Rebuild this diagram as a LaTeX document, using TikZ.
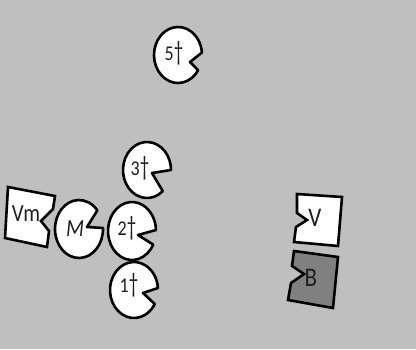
\documentclass[tikz,border=0pt]{standalone}
\usepackage{fontspec}
\setmainfont{Carlito}
\usepackage{graphicx}
\definecolor{bg}{RGB}{191,191,191}
\definecolor{bdark}{RGB}{128,128,128}
\definecolor{txt}{RGB}{30,30,30}
\tikzset{
  pac/.style={draw=black, fill=white, line width=2.6pt, line join=round},
  blk/.style={draw=black, line width=2.6pt, line join=miter},
  dig/.style={inner sep=0pt, text=txt, font=\fontsize{18}{18}\selectfont},
  lab/.style={inner sep=0pt, text=txt, font=\fontsize{23}{23}\selectfont}
}
\newcommand\vs[1]{\scalebox{1}[1.17]{#1}}
\newcommand\dg{\scalebox{1.05}[1.3]{†}}
\begin{document}
\begin{tikzpicture}[x=1pt,y=-1pt]
\useasboundingbox (0,0) rectangle (416,349);
\fill[bg] (0,0) rectangle (416,349);
% pacmen
\draw[pac] (178,55) ++(33:24 and 28) arc[start angle=33, end angle=355, x radius=24, y radius=28] -- (190,62) -- cycle;
\draw[pac] (147,170) ++(49:24 and 28) arc[start angle=49, end angle=360, x radius=24, y radius=28] -- (152,173) -- cycle;
\draw[pac] (132,231) ++(28:24 and 29) arc[start angle=28, end angle=358, x radius=24, y radius=29] -- (138,235) -- cycle;
\draw[pac] (134,290) ++(30:24 and 28) arc[start angle=30, end angle=356, x radius=24, y radius=28] -- (143,293) -- cycle;
\draw[pac] (79,229) ++(-2:24 and 29) arc[start angle=-2, end angle=320, x radius=24, y radius=29] -- (87,227) -- cycle;
% boxes
\draw[blk, fill=white] (8,187) -- (55,196) -- (53,209) -- (41,221) -- (49,231) -- (47,247) -- (5,238) -- cycle;
\draw[blk, fill=white] (297,194) -- (342,197) -- (338,246) -- (294,242) -- (296,227) -- (307,220) -- (297,213) -- cycle;
\draw[blk, fill=bdark] (294,251) -- (338,257) -- (333,308) -- (288,300) -- (291,283) -- (304,274) -- (292,266) -- cycle;
% labels
\node[dig] (t5) at (174,53) {\vs{5\dg}};
\node[dig] (t3) at (140,168) {\vs{3\dg}};
\node[dig] (t2) at (127,228) {\vs{2\dg}};
\node[dig] (t1) at (129,285) {\vs{1\dg}};
\node[lab, font=\fontsize{21}{21}\selectfont\itshape] (tm) at (75,229) {\vs{M}};
\node[lab, font=\fontsize{21}{21}\selectfont] (tvm) at (26,214) {\vs{Vm}};
\node[lab] (tv) at (315,218) {\vs{V}};
\node[lab] (tb) at (311,278) {\vs{B}};
\end{tikzpicture}
\end{document}
